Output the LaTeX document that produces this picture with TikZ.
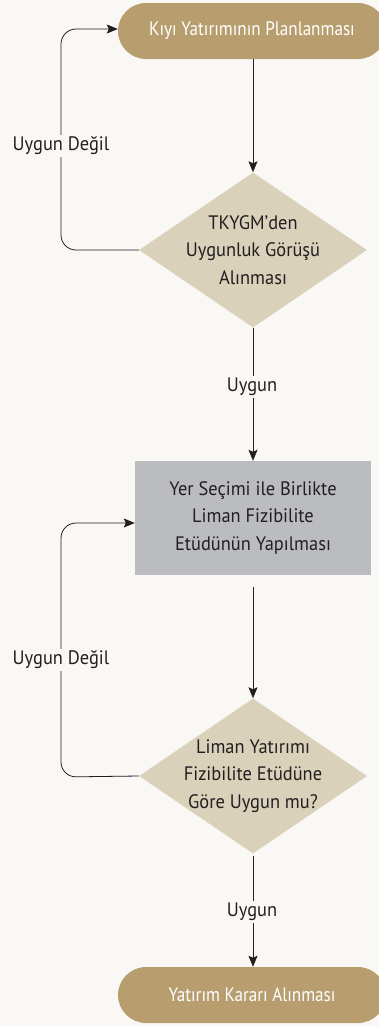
\documentclass[tikz,border=0pt]{standalone}
\usepackage{fontspec}
\setmainfont{PT Sans}
\newfontfamily\darkfont[FakeStretch=0.944]{PT Sans}
\newfontfamily\whitefont[FakeStretch=0.878]{PT Sans}
\usetikzlibrary{shapes.geometric,arrows.meta,calc}
\definecolor{bgc}{HTML}{F9F8F4}
\definecolor{goldc}{HTML}{B89E6F}
\definecolor{beigec}{HTML}{D9D1BA}
\definecolor{grayc}{HTML}{BBBCBF}
\definecolor{inkc}{HTML}{231F20}
\tikzset{
  txt/.style={font=\darkfont\fontsize{19.5}{27.5}\selectfont, text=inkc, align=center},
  term/.style={fill=goldc, rounded corners=28pt, minimum width=268pt, minimum height=56pt, inner sep=0pt,
    font=\whitefont\fontsize{19.5}{27.5}\selectfont, text=white},
  proc/.style={fill=grayc, minimum width=236pt, minimum height=114pt, inner sep=0pt, txt},
  dec/.style={diamond, fill=beigec, minimum width=228pt, minimum height=155pt, inner sep=0pt},
  conn/.style={draw=inkc, line width=0.8pt, -{Stealth[length=11pt,width=9pt,inset=2pt]}},
  lbl/.style={txt, fill=bgc, inner sep=2pt},
}
\begin{document}
\begin{tikzpicture}[x=1pt,y=-1pt]
\fill[bgc] (0,0) rectangle (379,1026);
\useasboundingbox (0,0) rectangle (379,1026);
\clip (0,0) rectangle (379,1026);

\node[term] (start) at (252,31) {Kıyı Yatırımının Planlanması};
\node[dec, label={[txt]center:TKYGM’den\\Uygunluk Görüşü\\Alınması}] (d1) at (253,250) {};
\node[proc] (rect) at (253,518) {Yer Seçimi ile Birlikte\\Liman Fizibilite\\Etüdünün Yapılması};
\node[dec, label={[txt]center:Liman Yatırımı\\Fizibilite Etüdüne\\Göre Uygun mu?}] (d2) at (253,776) {};
\node[term] (end) at (252,995) {Yatırım Kararı Alınması};

\coordinate (l1) at (61,250);
\coordinate (l2) at (61,777);

\draw[conn] (start.south -| d1.north) -- (d1.north);
\draw[conn] (d1.south) -- (rect.north);
\draw[conn, shorten <=12pt] (rect.south) -- (d2.north);
\draw[conn, shorten <=2pt] (d2.south) -- (end.north -| d2.south);
\draw[conn, rounded corners=15pt] (d1.west) -- (l1) |- ($(start.west)+(0,-2)$);
\draw[conn, rounded corners=15pt] (d2.west) -- (l2) |- ($(rect.west)+(0,5)$);

\node[lbl] (u1) at (61,146) {Uygun Değil};
\node[lbl] (u2) at (61,660) {Uygun Değil};
\node[lbl] (g1) at (252,387) {Uygun};
\node[lbl] (g2) at (252,912) {Uygun};
\end{tikzpicture}
\end{document}
